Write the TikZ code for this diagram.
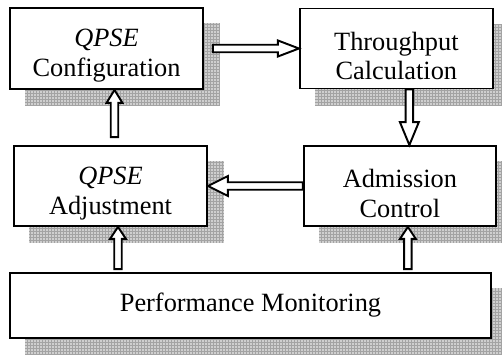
\documentclass[tikz,border=0pt]{standalone}
\usepackage{fontspec}
\setmainfont{Liberation Serif}
\usepackage{tikz}
\usetikzlibrary{positioning, calc, backgrounds}

% hollow block arrow: #1 head length, #2 head half width, #3 tail, #4 tip
\newcommand\hollowarrow[4]{%
  \coordinate (hb) at ($(#4)!#1!(#3)$);
  \draw[arrowline] ($(#3)!0.075cm!90:(#4)$) -- ($(hb)!0.075cm!90:(#4)$)
    -- ($(hb)!#2!90:(#4)$) -- (#4) -- ($(hb)!#2!-90:(#4)$)
    -- ($(hb)!0.075cm!-90:(#4)$) -- ($(#3)!0.075cm!-90:(#4)$) -- cycle;
}

\begin{document}
\begin{tikzpicture}[
    x=0.02cm, y=-0.02cm,
    box/.style={rectangle, draw, fill=white, line width=1.1pt},
    block/.style={box, minimum width=3.86cm, minimum height=1.6cm,
      label={[blocktext]center:#1}},
    blocktext/.style={align=center, yshift=-0.15cm,
      font=\fontsize{15}{17}\selectfont},
    wideblock/.style={box, minimum width=9.62cm, minimum height=1.3cm,
      font=\fontsize{15}{17}\selectfont},
    arrowline/.style={draw, fill=white, line width=1.1pt, line join=miter},
    shadowfill/.style={fill=gray!38},
    shadowgrid/.style={draw=gray!72, line width=0.3pt, step=0.06cm}
  ]
  \useasboundingbox (0,0) rectangle (502,354);

  \node[block={\textit{QPSE}\\Configuration}, minimum height=1.62cm] (cfg) at (106.5,48.5) {};
  \node[block={Throughput\\Calculation}, right=1.9cm of cfg] (thr) {};
  \node[block={\textit{QPSE}\\Adjustment}] (adj) at (110.5,186) {};
  \node[block={Admission\\Control}, right=1.9cm of adj, minimum width=3.84cm] (adm) {};
  \node[wideblock] (perf) at (250.5,305.5) {Performance Monitoring};

  % shadows
  \begin{scope}[on background layer]
    \foreach \n in {cfg,thr,adj,adm,perf} {
      \fill[shadowfill] ($(\n.south west)+(16,16)$) rectangle ($(\n.north east)+(16,16)$);
      \begin{scope}
        \clip ($(\n.south west)+(16,16)$) rectangle ($(\n.north east)+(16,16)$);
        \draw[shadowgrid] ($(\n.south west)+(16,16)$) grid ($(\n.north east)+(16,16)$);
      \end{scope}
    }
  \end{scope}

  % arrows
  \coordinate (a1) at ($(cfg.east)+(9,0)$);
  \hollowarrow{0.42cm}{0.16cm}{a1}{thr.west}
  \coordinate (a2) at ($(thr.south)+(13,0)$);
  \hollowarrow{0.46cm}{0.19cm}{a2}{a2 |- adm.north}
  \hollowarrow{0.40cm}{0.2cm}{adm.west}{adj.east}
  \coordinate (a4) at ($(adj.north)+(4,-8)$);
  \hollowarrow{0.26cm}{0.16cm}{a4}{a4 |- cfg.south}
  \coordinate (a5) at ($(adj.south |- perf.north)+(7.5,-3)$);
  \hollowarrow{0.24cm}{0.16cm}{a5}{a5 |- adj.south}
  \coordinate (a6) at ($(adm.south |- perf.north)+(8,-3)$);
  \hollowarrow{0.24cm}{0.16cm}{a6}{a6 |- adm.south}
\end{tikzpicture}
\end{document}
